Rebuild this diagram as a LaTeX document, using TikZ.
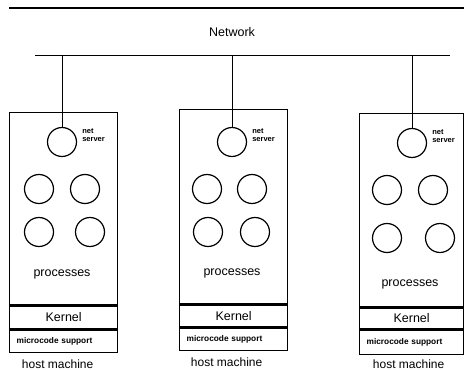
\documentclass[tikz,border=0pt]{standalone}
\usepackage{fontspec}
\setmainfont{Liberation Sans}
\usetikzlibrary{positioning}

\begin{document}
\begin{tikzpicture}[x=1pt, y=1pt,
  every node/.style={font=\fontsize{12.5}{14}\selectfont},
  hostbox/.style={draw, line width=1.3pt, inner sep=0pt, minimum width=#1},
  micro/.style={draw, line width=1.3pt, inner xsep=7pt, inner ysep=0pt, text width=#1-14pt, align=left, font=\fontsize{8.3}{9}\selectfont\bfseries},
  proc/.style={draw, circle, line width=1.2pt, minimum size=29pt, inner sep=0pt},
  small/.style={align=left, inner sep=0pt, font=\fontsize{7.5}{8}\selectfont\bfseries},
  wire/.style={line width=0.9pt}
]
\useasboundingbox (0,0) rectangle (464,370);

\coordinate (topW) at (9,361.5);
\coordinate (topE) at (464,361.5);
\draw[line width=2pt] (topW) -- (topE);

\node (net) at (232,338) {Network};
\coordinate (busW) at (35,315);
\coordinate (busE) at (450,315);
\draw[wire] (busW) -- (busE);

% first machine
\node[hostbox=108pt, minimum height=192pt, anchor=north west] (hostA) at (9,258) {};
\node[hostbox=108pt, minimum height=23pt, below=0pt of hostA] (kernA) {Kernel};
\node[micro=108pt, minimum height=22pt, below=0pt of kernA] (microA) {microcode support};
\node[below=3pt of microA, xshift=-6pt, font=\fontsize{12}{14}\selectfont] (labA) {host machine};
\node[proc] (srvA) at (62,228) {};
\node[small, above right=0pt and 5pt of srvA.east] (srvlabA) {net\\server};
\node[proc] (pA1) at (39,181) {};
\node[proc] (pA2) at (85,181) {};
\node[proc] (pA3) at (39,138) {};
\node[proc] (pA4) at (90,138) {};
\node (procA) at (62,96) {processes};

% second machine
\node[hostbox=108pt, minimum height=194pt, anchor=north west] (hostB) at (179,261) {};
\node[hostbox=108pt, minimum height=22pt, below=0pt of hostB] (kernB) {Kernel};
\node[micro=108pt, minimum height=22pt, below=0pt of kernB] (microB) {microcode support};
\node[below=3pt of microB, xshift=-7pt, font=\fontsize{12}{14}\selectfont] (labB) {host machine};
\node[proc] (srvB) at (232,228) {};
\node[small, above right=0pt and 5pt of srvB.east] (srvlabB) {net\\server};
\node[proc] (pB1) at (207,181) {};
\node[proc] (pB2) at (252,181) {};
\node[proc] (pB3) at (208,138) {};
\node[proc] (pB4) at (255,138) {};
\node (procB) at (232,97) {processes};

% third machine
\node[hostbox=104pt, minimum height=193pt, anchor=north west] (hostC) at (359,257) {};
\node[hostbox=104pt, minimum height=21pt, below=0pt of hostC] (kernC) {Kernel};
\node[micro=104pt, minimum height=24pt, below=0pt of kernC] (microC) {microcode support};
\node[below=1pt of microC, xshift=-3pt, font=\fontsize{12}{14}\selectfont] (labC) {host machine};
\node[proc] (srvC) at (412,227) {};
\node[small, above right=0pt and 5pt of srvC.east] (srvlabC) {net\\server};
\node[proc] (pC1) at (387,180) {};
\node[proc] (pC2) at (433,180) {};
\node[proc] (pC3) at (387,132) {};
\node[proc] (pC4) at (440,132) {};
\node (procC) at (410,86) {processes};

\coordinate (tapA) at (62,315);
\coordinate (tapB) at (232,315);
\coordinate (tapC) at (412,315);
\draw[wire] (tapA) -- (srvA);
\draw[wire] (tapB) -- (srvB);
\draw[wire] (tapC) -- (srvC);
\end{tikzpicture}
\end{document}
